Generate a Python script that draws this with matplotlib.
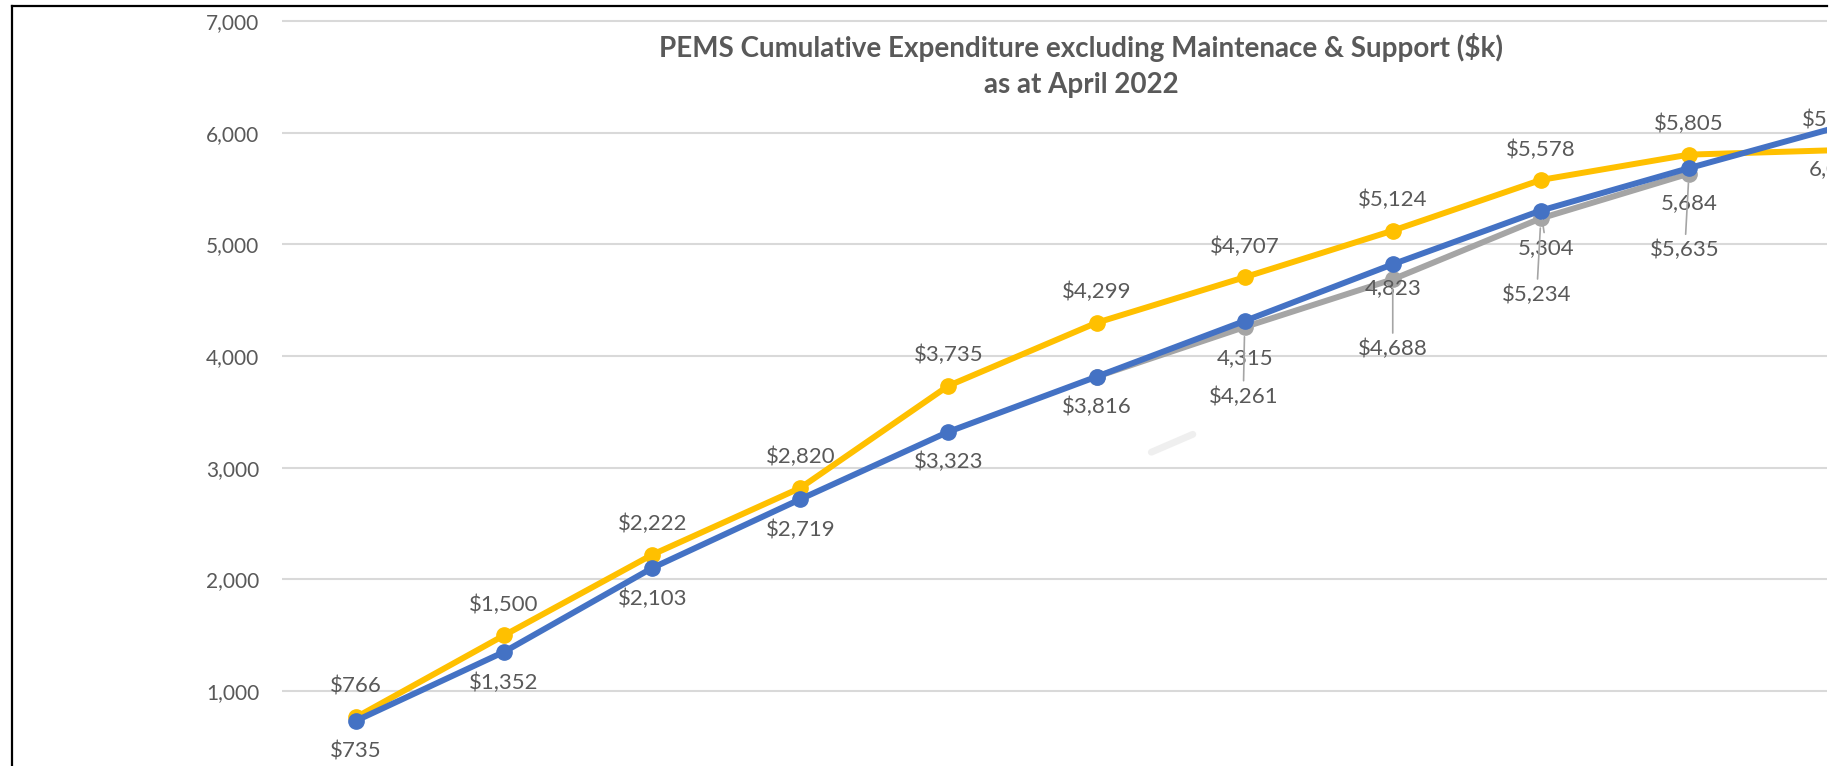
import matplotlib
matplotlib.use("Agg")
import matplotlib.pyplot as plt
from matplotlib.lines import Line2D

# ---------------- data ----------------
categories = list(range(11))
forecast = [766, 1500, 2222, 2820, 3735, 4299, 4707, 5124, 5578, 5805, 5845]      # yellow
actual = [735, 1352, 2103, 2719, 3323, 3816, 4315, 4823, 5304, 5684, 6050]         # blue
revised = [None, None, None, None, None, 3816, 4261, 4688, 5234, 5635, None]       # grey
y_ticks = [1000, 2000, 3000, 4000, 5000, 6000, 7000]
title_lines = ["PEMS Cumulative Expenditure excluding Maintenace & Support ($k)",
               "as at April 2022"]
smudge_x = [5.37, 5.65]
smudge_y = [3140, 3300]

# ---------------- style ----------------
W, H = 1843, 766
FONT = "Lato"
TXT = "#595959"
YEL, BLU, GRY = "#FFC000", "#4472C4", "#A5A5A5"

plt.rcParams["font.family"] = [FONT, "DejaVu Sans"]

fig = plt.figure(figsize=(W / 100, H / 100), dpi=100)

left_px, right_px = 282, 1827
y0_px = 802.8
px_per_unit = 0.11166
ytop = 7100
top_px = y0_px - px_per_unit * ytop
ax = fig.add_axes([left_px / W, (H - y0_px) / H,
                   (right_px - left_px) / W, (y0_px - top_px) / H])
cat_w = 148.1
ax.set_xlim(-0.5, -0.5 + (right_px - left_px) / cat_w)
ax.set_ylim(0, ytop)

for s in ax.spines.values():
    s.set_visible(False)
ax.set_xticks([])
ax.set_yticks(y_ticks)
ax.set_yticklabels([f"{v:,}" for v in y_ticks])
ax.tick_params(axis="y", length=0, pad=16.5, labelsize=15, labelcolor=TXT)
ax.yaxis.grid(True, color="#d9d9d9", linewidth=1.5)
ax.set_axisbelow(True)

lw, ms = 4.3, 11
gx = [c for c, v in zip(categories, revised) if v is not None]
gy = [v for v in revised if v is not None]
ax.plot(smudge_x, smudge_y, color="#ececec", lw=5, alpha=0.8, solid_capstyle="round", zorder=1)
ax.plot(gx, gy, color=GRY, lw=lw, marker="o", ms=ms, zorder=2)
ax.plot(categories, forecast, color=YEL, lw=lw, marker="o", ms=ms, zorder=3)
ax.plot(categories, actual, color=BLU, lw=lw, marker="o", ms=ms, zorder=4)

LFS = 16
def lab(x, y, text, dx, dy, leader=False):
    kw = {}
    if leader:
        kw["arrowprops"] = dict(arrowstyle="-", color=GRY, lw=1.2, shrinkA=2, shrinkB=7)
    ax.annotate(text, (x, y), xytext=(dx, dy), textcoords="offset points",
                ha="center", va="center", fontsize=LFS, color=TXT,
                clip_on=True, annotation_clip=False, zorder=6, **kw)

# yellow labels above
for c, v in zip(categories, forecast):
    lab(c, v, f"${v:,}", 0, 22)

# blue labels below
blue_off = {6: (0, -27), 7: (0, -17), 8: (4, -27), 9: (0, -25), 10: (0, -30)}
for c, v in zip(categories, actual):
    txt = f"${v:,}" if c < 6 else f"{v:,}"
    dx, dy = blue_off.get(c, (0, -22))
    lab(c, v, txt, dx, dy, leader=(c == 8))

# grey labels with leader lines
grey_off = {6: (-1, -50), 7: (0, -50), 8: (-3, -55), 9: (-3, -55)}
for c, v in zip(categories, revised):
    if v is None or c == 5:
        continue
    dx, dy = grey_off[c]
    lab(c, v, f"${v:,}", dx, dy, leader=True)

# title
fig.text(1081 / W, 1 - 47 / H, title_lines[0], ha="center", va="center",
         fontsize=20, fontweight="bold", color=TXT)
fig.text(1081 / W, 1 - 85 / H, title_lines[1], ha="center", va="center",
         fontsize=20, fontweight="bold", color=TXT)

# outer frame (cropped screenshot border)
fig.add_artist(Line2D([12 / W, right_px / W], [1 - 6 / H, 1 - 6 / H], color="black", lw=1.6,
                      transform=fig.transFigure))
fig.add_artist(Line2D([12 / W, 12 / W], [0, 1 - 6 / H], color="black", lw=1.6,
                      transform=fig.transFigure))

fig.savefig("out.png", dpi=100, facecolor="white")
